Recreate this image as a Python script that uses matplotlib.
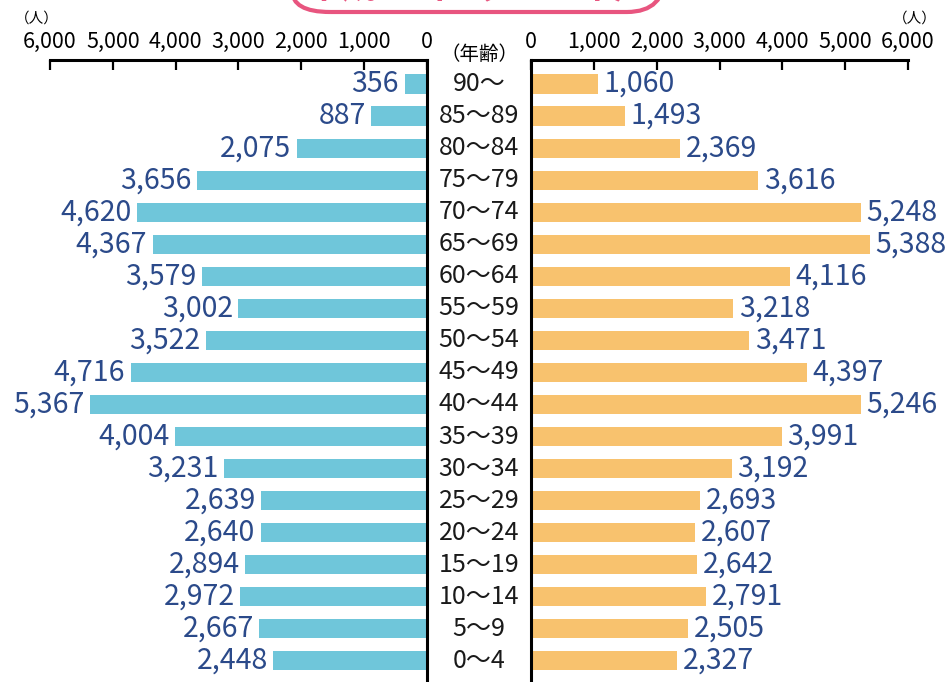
import matplotlib
matplotlib.use('Agg')
import matplotlib.pyplot as plt
from matplotlib.patches import FancyBboxPatch

plt.rcParams['font.family'] = ['Noto Sans CJK JP', 'DejaVu Sans']

# age groups, top to bottom
ages = ['90～', '85～89', '80～84', '75～79', '70～74', '65～69', '60～64',
        '55～59', '50～54', '45～49', '40～44', '35～39', '30～34', '25～29',
        '20～24', '15～19', '10～14', '5～9', '0～4']
male = [356, 887, 2075, 3656, 4620, 4367, 3579, 3002, 3522, 4716,
        5367, 4004, 3231, 2639, 2640, 2894, 2972, 2667, 2448]
female = [1060, 1493, 2369, 3616, 5248, 5388, 4116, 3218, 3471, 4397,
          5246, 3991, 3192, 2693, 2607, 2642, 2791, 2505, 2327]
ticks = [0, 1000, 2000, 3000, 4000, 5000, 6000]
tick_labels = ['0', '1,000', '2,000', '3,000', '4,000', '5,000', '6,000']

cyan = '#6fc6da'
orange = '#f8c26e'
navy = '#2b4a8a'

W, H = 952, 682
fig = plt.figure(figsize=(W / 100, H / 100), dpi=100)

top = 1 - 60 / H
axL = fig.add_axes([50 / W, 0, 377 / W, top])
axR = fig.add_axes([531 / W, 0, 377 / W, top])

y = list(range(len(ages)))
axL.barh(y, male, height=0.6, color=cyan)
axR.barh(y, female, height=0.6, color=orange)

for ax in (axL, axR):
    ax.set_xlim(0, 6000)
    ax.set_ylim(18.66, -0.75)
    ax.xaxis.tick_top()
    ax.set_xticks(ticks)
    ax.set_xticklabels(tick_labels, fontsize=15.5)
    ax.tick_params(axis='x', direction='in', length=7.5, width=1.6, pad=5)
    ax.set_yticks([])
    for s in ('bottom', 'left', 'right'):
        ax.spines[s].set_visible(False)
    ax.spines['top'].set_linewidth(2.2)
    ax.patch.set_alpha(0)

axL.invert_xaxis()
axL.spines['right'].set_visible(True)
axL.spines['right'].set_linewidth(2.2)
axR.spines['left'].set_visible(True)
axR.spines['left'].set_linewidth(2.2)

for i in y:
    axL.annotate(f'{male[i]:,}', (male[i], i), xytext=(-4, 0),
                 textcoords='offset points', ha='right', va='center',
                 fontsize=20.5, color=navy)
    axR.annotate(f'{female[i]:,}', (female[i], i), xytext=(4, 0),
                 textcoords='offset points', ha='left', va='center',
                 fontsize=20.5, color=navy)
    # age label centred in the gap between the two axes
    axR.annotate(ages[i], (0, i), xytext=(-52 * 0.72, 0),
                 textcoords='offset points', ha='center', va='center',
                 fontsize=18, color='#1a1a1a', annotation_clip=False)

fig.text(479 / W, 1 - 55 / H, '（年齢）', ha='center', va='center', fontsize=14)
fig.text(37 / W, 1 - 19 / H, '（人）', ha='center', va='center', fontsize=10.5)
fig.text(915 / W, 1 - 19 / H, '（人）', ha='center', va='center', fontsize=10.5)

# title box cut off at the top
box = FancyBboxPatch((292 / W, 1 - 12 / H), 373 / W, 60 / H,
                     boxstyle='round,pad=0,rounding_size=0.04',
                     transform=fig.transFigure, fill=False,
                     edgecolor='#e8557f', linewidth=3, mutation_aspect=W / H)
fig.patches.append(box)
fig.text(478 / W, 1 + 13 / H, '平成27年（2015年）', ha='center', va='center',
         fontsize=26, color='#e8557f', fontweight='bold')

fig.savefig('out.png', dpi=100)
